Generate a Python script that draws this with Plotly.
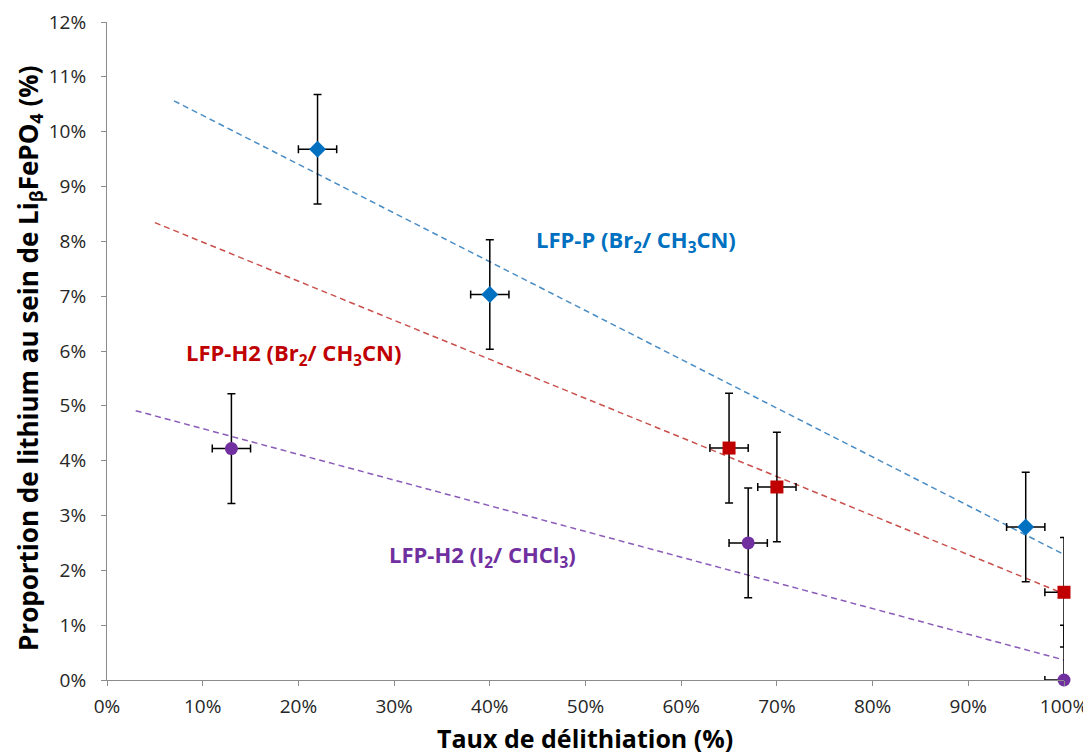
import numpy as np
import plotly.graph_objects as go

# Data (percent units)
lfp_p_x = [22, 40, 96]
lfp_p_y = [9.68, 7.03, 2.79]
lfp_h2br_x = [65, 70, 100]
lfp_h2br_y = [4.23, 3.52, 1.60]
lfp_h2i_x = [13, 67, 100]
lfp_h2i_y = [4.22, 2.50, 0.0]
err_y = 1.0
err_x = 2.0
trend_start = {"p": 7, "br": 5, "i": 3}
trend_end = 100

x_ticks = list(range(0, 101, 10))
y_ticks = list(range(0, 13, 1))
x_ticktext = [f"{v}%" for v in x_ticks]
y_ticktext = [f"{v}%" for v in y_ticks]

series = [
    ("p", lfp_p_x, lfp_p_y, "#0070C0", "#4A8CC4", "diamond", 13),
    ("br", lfp_h2br_x, lfp_h2br_y, "#C00000", "#C9504C", "square", 13),
    ("i", lfp_h2i_x, lfp_h2i_y, "#7030A0", "#8A5BB8", "circle", 13),
]

fig = go.Figure()

for key, xs, ys, mc, lc, sym, sz in series:
    k, b = np.polyfit(xs, ys, 1)
    tx = [trend_start[key], trend_end]
    ty = [k * v + b for v in tx]
    fig.add_trace(go.Scatter(x=tx, y=ty, mode="lines",
                             line=dict(color=lc, width=1.5, dash="6px,4px"),
                             hoverinfo="skip", showlegend=False))

for key, xs, ys, mc, lc, sym, sz in series:
    fig.add_trace(go.Scatter(
        x=xs, y=ys, mode="markers", marker=dict(size=1, opacity=0),
        error_y=dict(type="constant", value=err_y, color="black", thickness=1.5, width=4),
        error_x=dict(type="constant", value=err_x, color="black", thickness=1.5, width=4),
        cliponaxis=True, showlegend=False, hoverinfo="skip"))

for key, xs, ys, mc, lc, sym, sz in series:
    fig.add_trace(go.Scatter(
        x=xs, y=ys, mode="markers",
        marker=dict(symbol=sym, size=sz, color=mc, line=dict(width=0)),
        cliponaxis=False, showlegend=False))

font_family = "'Open Sans', Lato, sans-serif"

# page body has an 8px margin in the browser; compensate
OFF = 8
W, H = 1091 - OFF, 754 - OFF
L, R, T, B = 107 - OFF, 1064 - OFF, 22 - OFF, 680 - OFF

def px2paper(px, py):
    px -= OFF
    py -= OFF
    return (px - L) / (R - L), (B - py) / (B - T)

annos = [
    (636, 241, "LFP-P (Br<sub>2</sub>/ CH<sub>3</sub>CN)", "#0070C0"),
    (293, 354, "LFP-H2 (Br<sub>2</sub>/ CH<sub>3</sub>CN)", "#C00000"),
    (482, 556, "LFP-H2 (I<sub>2</sub>/ CHCl<sub>3</sub>)", "#7030A0"),
]
for px, py, txt, col in annos:
    ax, ay = px2paper(px, py)
    fig.add_annotation(x=ax, y=ay, xref="paper", yref="paper", text="<b>" + txt + "</b>",
                       showarrow=False, font=dict(family=font_family, size=22, color=col),
                       xanchor="center", yanchor="middle")

ax, ay = px2paper(585, 738)
fig.add_annotation(x=ax, y=ay, xref="paper", yref="paper",
                   text="<b>Taux de délithiation (%)</b>", showarrow=False,
                   font=dict(family=font_family, size=25, color="black"),
                   xanchor="center", yanchor="middle")
ax, ay = px2paper(29, 358)
fig.add_annotation(x=ax, y=ay, xref="paper", yref="paper",
                   text="<b>Proportion de lithium au sein de Li<sub>β</sub>FePO<sub>4</sub> (%)</b>",
                   showarrow=False, textangle=-90,
                   font=dict(family=font_family, size=26, color="black"),
                   xanchor="center", yanchor="middle")

axis_common = dict(showgrid=False, zeroline=False, showline=True, linecolor="#8C8C8C",
                   linewidth=1, ticks="outside", ticklen=5, tickcolor="#8C8C8C",
                   tickfont=dict(size=19, color="#262626"), automargin=False)

fig.update_layout(
    width=W, height=H,
    margin=dict(l=L, r=W - R, t=T, b=H - B, autoexpand=False),
    paper_bgcolor="white", plot_bgcolor="white",
    font=dict(family=font_family, color="#262626", size=16),
    xaxis=dict(range=[0, 100], tickmode="array", tickvals=x_ticks, ticktext=x_ticktext,
               ticklabelstandoff=4, **axis_common),
    yaxis=dict(range=[0, 12], tickmode="array", tickvals=y_ticks, ticktext=y_ticktext,
               ticklabelstandoff=11, **axis_common),
)

fig.write_html("out.html")
